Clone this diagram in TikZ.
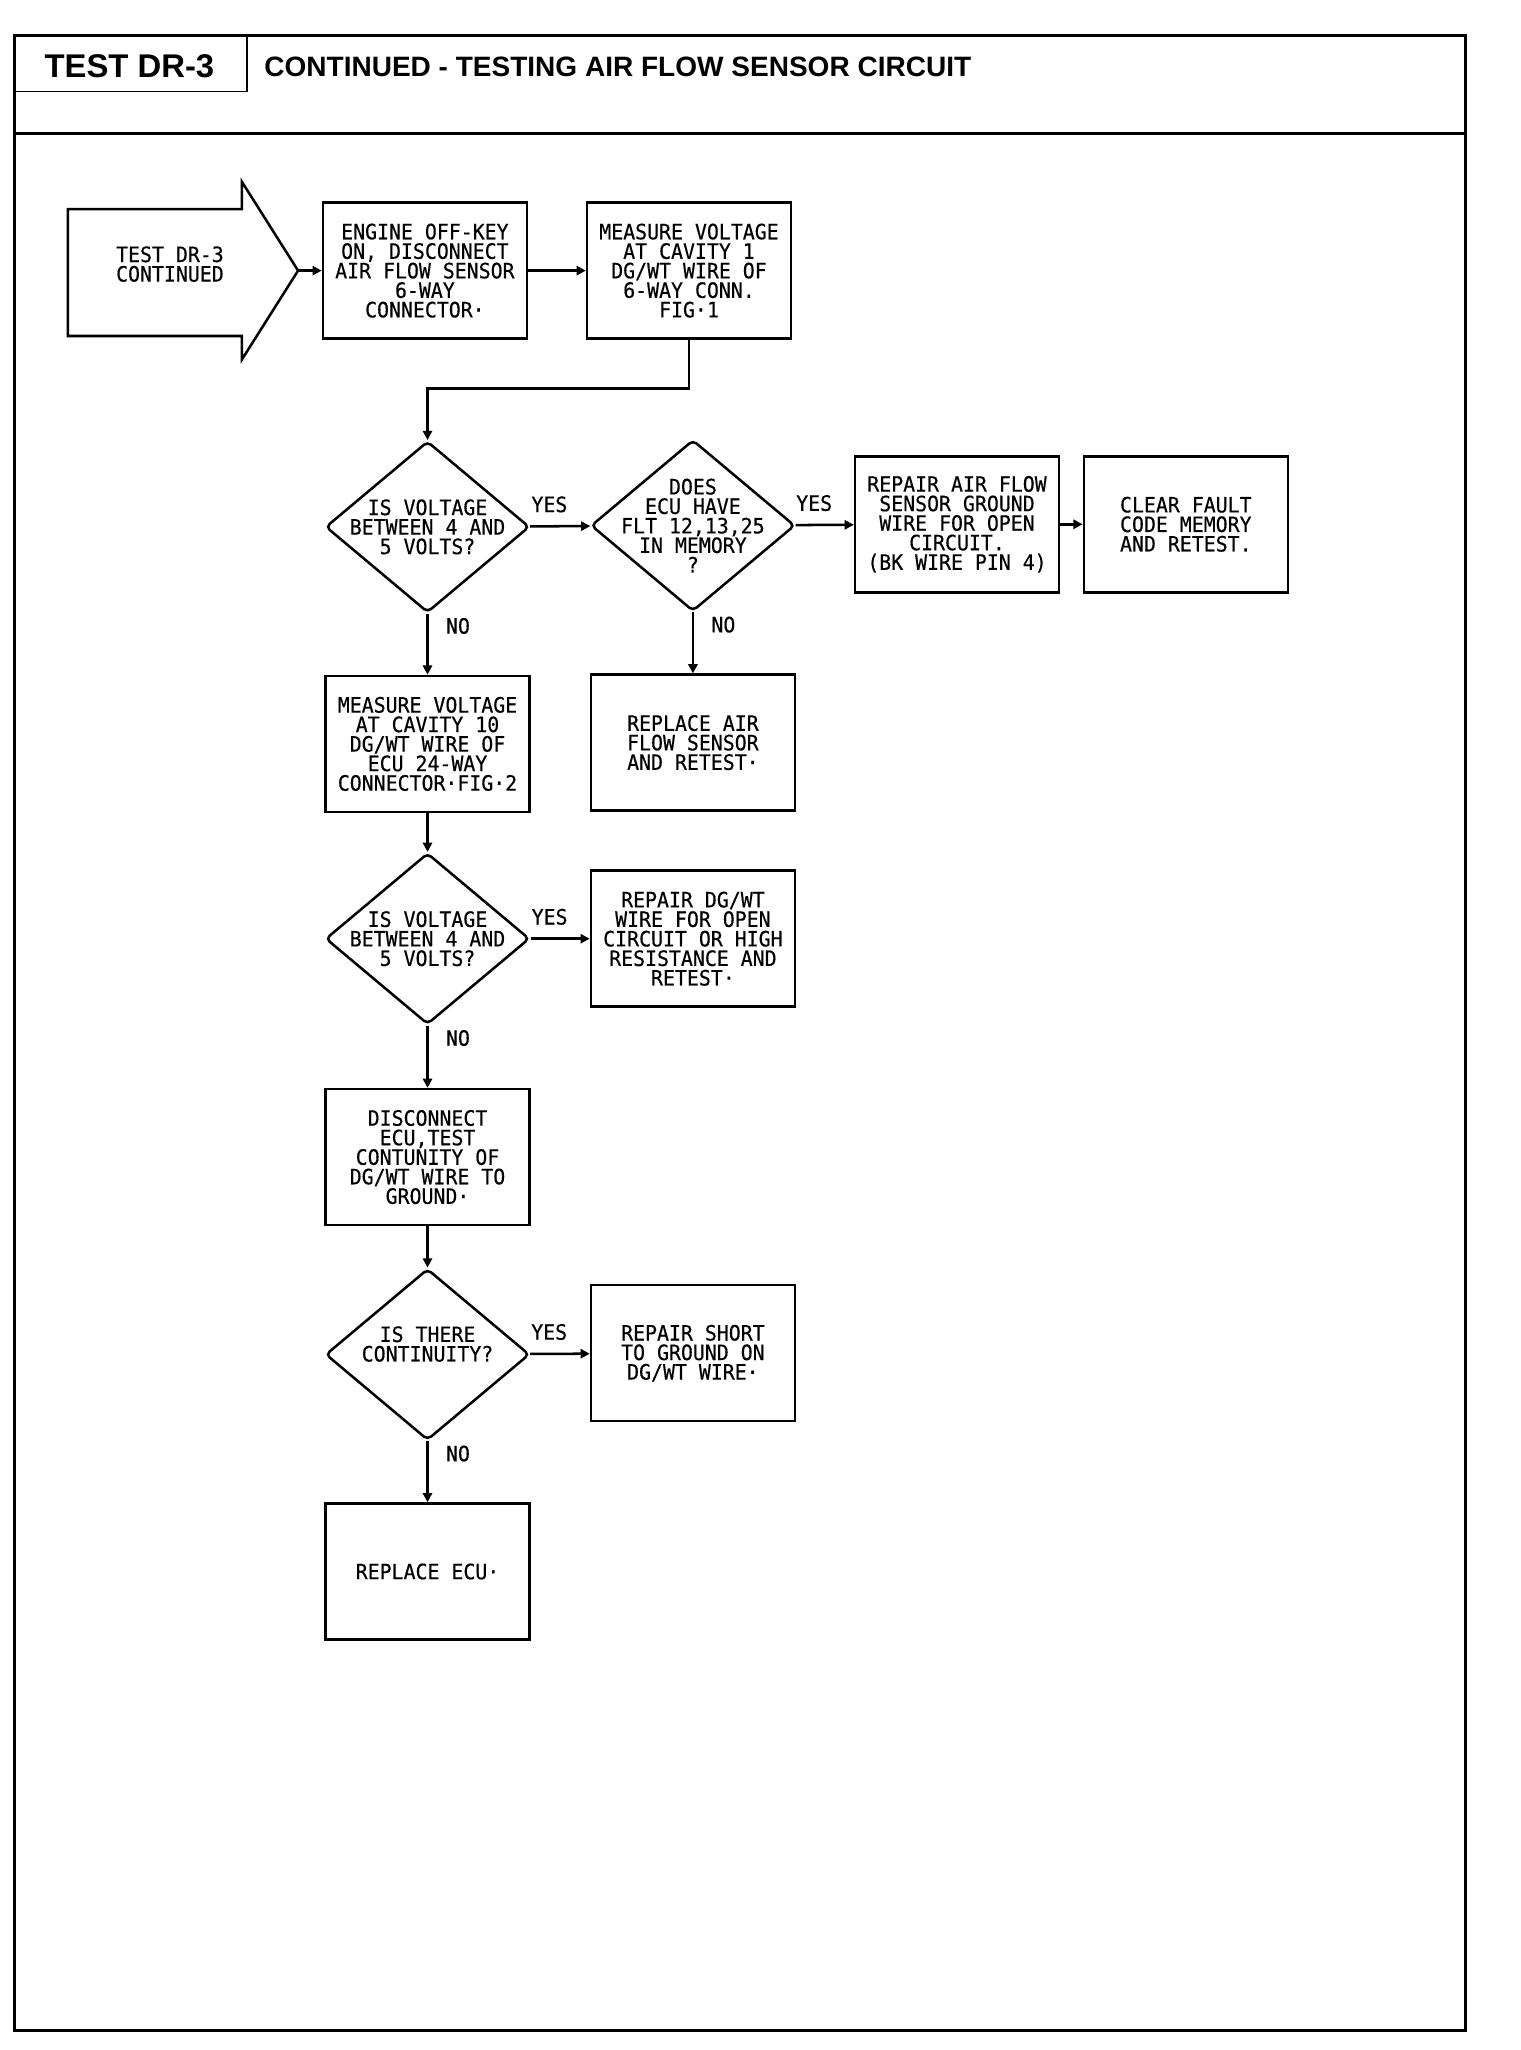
\documentclass[tikz,border=0pt]{standalone}
\usepackage{fontspec}
\newfontfamily\plotfont[FakeStretch=0.94, FakeBold=0.4]{DejaVu Sans Mono}
\newfontfamily\headfont{Liberation Sans}
\usetikzlibrary{shapes.geometric, arrows.meta}

\begin{document}
\begin{tikzpicture}[x=0.02cm, y=-0.02cm, >={Triangle[length=4pt, width=4pt]},
    font=\plotfont\fontsize{9.2}{8.5}\selectfont,
    box/.style={draw, line width=1.1pt, minimum width=3.12cm, minimum height=2.08cm, align=center, inner sep=1pt},
    decision/.style={draw, diamond, line width=1.1pt, rounded corners=2pt, minimum width=3.12cm, minimum height=2.62cm, inner sep=0pt},
    qtext/.style={align=center, inner sep=0pt},
    flow/.style={->, line width=1.1pt},
    answer/.style={inner sep=1.5pt}]
    % Frame and header
    \useasboundingbox (0,0) rectangle (1163,1568);
    \draw[line width=1.2pt] (11,27) rectangle (1121,1553);
    \draw[line width=1.2pt] (11,102) -- (1121,102);
    \draw[line width=0.8pt] (11,27) rectangle (189,70);
    \node (testno) at (99,51) {\headfont\bfseries\fontsize{14.3}{16}\selectfont TEST DR-3};
    \node[anchor=west] (title) at (196,51.5) {\headfont\bfseries\fontsize{12.2}{14}\selectfont CONTINUED - TESTING AIR FLOW SENSOR CIRCUIT};
    
    % Entry arrow
    \draw[line width=1.1pt] (52,160) -- (185,160) -- (185,139) -- (228,207) -- (185,275) -- (185,257) -- (52,257) -- cycle;
    \node[align=center] (start) at (130,202) {TEST DR-3\\CONTINUED};
    \coordinate (tip) at (228,207);
    
    % Steps
    \node[box] (keyon) at (325,207) {ENGINE OFF-KEY\\ON, DISCONNECT\\AIR FLOW SENSOR\\6-WAY\\CONNECTOR·};
    \node[box] (meas1) at (527,207) {MEASURE VOLTAGE\\AT CAVITY 1\\DG/WT WIRE OF\\6-WAY CONN.\\FIG·1};
    \node[box] (repgnd) at (732,401) {REPAIR AIR FLOW\\SENSOR GROUND\\WIRE FOR OPEN\\CIRCUIT.\\(BK WIRE PIN 4)};
    \node[box] (clear) at (907,401) {CLEAR FAULT\\CODE MEMORY\\AND RETEST.};
    \node[box] (meas2) at (327,569) {MEASURE VOLTAGE\\AT CAVITY 10\\DG/WT WIRE OF\\ECU 24-WAY\\CONNECTOR·FIG·2};
    \node[box] (repsens) at (530,568) {REPLACE AIR\\FLOW SENSOR\\AND RETEST·};
    \node[box] (repwire) at (530,718) {REPAIR DG/WT\\WIRE FOR OPEN\\CIRCUIT OR HIGH\\RESISTANCE AND\\RETEST·};
    \node[box] (discon) at (327,885) {DISCONNECT\\ECU,TEST\\CONTUNITY OF\\DG/WT WIRE TO\\GROUND·};
    \node[box] (repshort) at (530,1035) {REPAIR SHORT\\TO GROUND ON\\DG/WT WIRE·};
    \node[box] (ecu) at (327,1202) {REPLACE ECU·};
    
    % Decisions
    \node[decision, label={[qtext]center:{IS VOLTAGE\\BETWEEN 4 AND\\5 VOLTS?}}] (volt1) at (327,403) {};
    \node[decision, label={[qtext]center:{DOES\\ECU HAVE\\FLT 12,13,25\\IN MEMORY\\?}}] (fault) at (530,402) {};
    \node[decision, label={[qtext]center:{IS VOLTAGE\\BETWEEN 4 AND\\5 VOLTS?}}] (volt2) at (327,718) {};
    \node[decision, label={[qtext, yshift=0.16cm]center:{IS THERE\\CONTINUITY?}}] (cont) at (327,1036) {};
    
    % Connectors
    \coordinate (bend) at (327,297);
    \draw[flow] (tip) -- (keyon.west);
    \draw[flow] (keyon) -- (meas1);
    \draw[flow] (meas1.south) |- (bend) -- (volt1.north);
    \draw[flow] (volt1) -- node[answer, above=4pt, pos=.32] {YES} (fault);
    \draw[flow] (fault) -- node[answer, above=4pt, pos=.32] {YES} (repgnd);
    \draw[flow] (repgnd) -- (clear);
    \draw[flow] (volt1) -- node[answer, right=6pt, pos=.2] {NO} (meas2);
    \draw[flow] (fault) -- node[answer, right=6pt, pos=.2] {NO} (repsens);
    \draw[flow] (meas2) -- (volt2);
    \draw[flow] (volt2) -- node[answer, above=4pt, pos=.32] {YES} (repwire);
    \draw[flow] (volt2) -- node[answer, right=6pt, pos=.2] {NO} (discon);
    \draw[flow] (discon) -- (cont);
    \draw[flow] (cont) -- node[answer, above=4pt, pos=.32] {YES} (repshort);
    \draw[flow] (cont) -- node[answer, right=6pt, pos=.2] {NO} (ecu);
\end{tikzpicture}
\end{document}
